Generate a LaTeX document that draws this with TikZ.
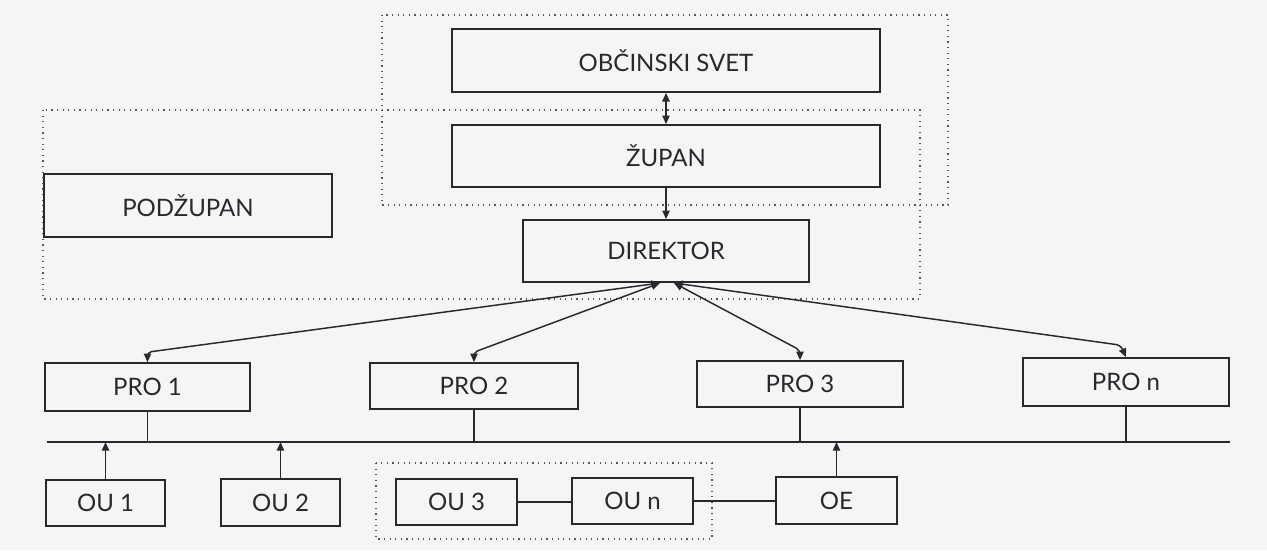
\documentclass[tikz,border=0pt]{standalone}
\usepackage{fontspec}
\setmainfont{Lato}
\usetikzlibrary{arrows.meta}
\definecolor{paper}{RGB}{245,245,245}
\definecolor{ink}{RGB}{42,40,46}
\definecolor{dotink}{RGB}{85,85,92}
\begin{document}
\begin{tikzpicture}[x=0.75pt,y=-0.75pt,
  box/.style={draw=ink, line width=1.25pt, rectangle, inner sep=0pt,
    text=ink, font=\fontsize{18}{20}\selectfont},
  grp/.style={draw=dotink, line width=1.1pt, dash pattern=on 0.9pt off 3.3pt},
  link/.style={draw=ink, line width=1.1pt},
  tip/.style={-{Triangle[length=6.5pt,width=5.5pt]}},
  dbl/.style={{Triangle[length=6.5pt,width=5.5pt]}-{Triangle[length=6.5pt,width=5.5pt]}},
]
% canvas
\fill[paper] (0,0) rectangle (1267,550);
\useasboundingbox (0,0) rectangle (1267,550);

% group frames
\draw[grp] (382,15) rectangle (948,205);
\draw[grp] (43,110) rectangle (920,299);
\draw[grp] (376,463) rectangle (712,539);

% leadership
\node[box, minimum width=321pt, minimum height=47.25pt] (svet) at (666,60.5) {OBČINSKI SVET};
\node[box, minimum width=321pt, minimum height=46.5pt] (zupan) at (666,156) {ŽUPAN};
\node[box, minimum width=214.5pt, minimum height=46.5pt] (dir) at (666,251) {DIREKTOR};
\node[box, minimum width=216pt, minimum height=47.25pt] (podz) at (188,205.5) {PODŽUPAN};

% departments
\node[box, minimum width=153.75pt, minimum height=36pt] (pro1) at (147.5,387) {PRO 1};
\node[box, minimum width=156pt, minimum height=34.5pt] (pro2) at (474,386) {PRO 2};
\node[box, minimum width=154.5pt, minimum height=34.5pt] (pro3) at (800,384) {PRO 3};
\node[box, minimum width=154.5pt, minimum height=36pt] (pron) at (1126,382) {PRO n};

% units
\node[box, minimum width=89.25pt, minimum height=34.5pt] (ou1) at (105.5,503) {OU 1};
\node[box, minimum width=89.25pt, minimum height=35.25pt] (ou2) at (280.5,502.5) {OU 2};
\node[box, minimum width=90.75pt, minimum height=34.5pt] (ou3) at (456.5,502) {OU 3};
\node[box, minimum width=90.75pt, minimum height=34.5pt] (oun) at (632.5,501) {OU n};
\node[box, minimum width=90.75pt, minimum height=35.25pt] (oe) at (836.5,500.5) {OE};

% common bus
\coordinate (busL) at (47,442);
\coordinate (busR) at (1230,442);
\draw[link] (busL) -- (busR);

% vertical chain
\draw[link, dbl] (svet.south) -- (zupan.north);
\draw[link, tip] (zupan.south) -- (dir.north);

% director to departments
\coordinate (dA) at (660,283);
\coordinate (dB) at (674,283);
\draw[link, dbl, rounded corners=3pt] (dA) -- ([yshift=7.5pt]pro1.north) -- (pro1.north);
\draw[link, dbl, rounded corners=3pt] (dA) -- ([yshift=7.5pt]pro2.north) -- (pro2.north);
\draw[link, dbl, rounded corners=3pt] (dB) -- ([yshift=7.5pt]pro3.north) -- (pro3.north);
\draw[link, dbl, rounded corners=3pt] (dB) -- ([xshift=-4pt,yshift=9pt]pron.north) -- (pron.north);

% departments onto the bus
\foreach \p in {pro1,pro2,pro3,pron}
  \draw[link] (\p.south) -- (\p.south |- busL);

% units feeding the bus
\draw[link, tip] (ou1.north) -- (ou1.north |- busL);
\draw[link, tip] (ou2.north) -- (ou2.north |- busL);
\draw[link, tip] (oe.north) -- (oe.north |- busL);

% unit chain
\draw[link] (ou3.east) -- (ou3.east -| oun.west);
\draw[link] (oun.east) -- (oun.east -| oe.west);
\end{tikzpicture}
\end{document}
